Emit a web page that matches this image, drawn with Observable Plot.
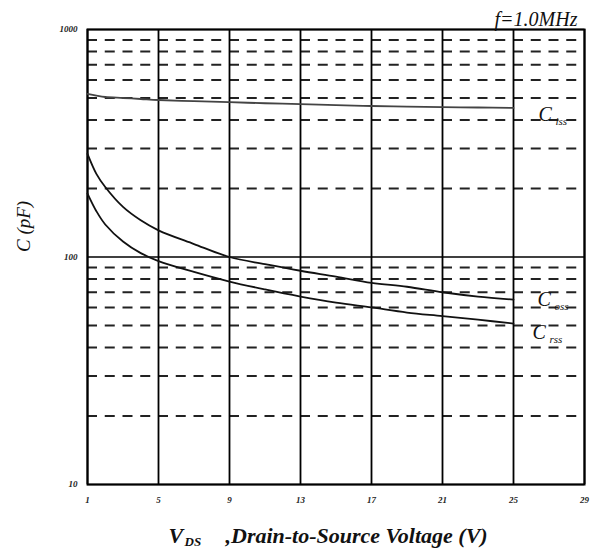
<!DOCTYPE html>
<html>
<head>
<meta charset="utf-8">
<script src="https://cdn.jsdelivr.net/npm/d3@7"></script>
<script src="https://cdn.jsdelivr.net/npm/@observablehq/plot@0.6"></script>
<style>
  html, body { margin: 0; padding: 0; background: #fff; }
  #chart svg { display: block; }
</style>
</head>
<body>
<div id="chart"></div>
<script>
const xTicks = [1, 5, 9, 13, 17, 21, 25, 29];
const yTicks = [10, 100, 1000];
const yMinor = [20, 30, 40, 50, 60, 70, 80, 90, 200, 300, 400, 500, 600, 700, 800, 900];

const vds = [1, 1.5, 2, 3, 4, 5, 7, 9, 11, 13, 15, 17, 19, 21, 23, 25];
const ciss = [521, 512, 505, 500, 495, 490, 484, 479, 474, 470, 465, 461, 458, 456, 454, 452];
const coss = [284, 232, 203, 166, 145, 131, 114, 100, 93, 87, 82, 77, 74, 70, 67, 65];
const crss = [190, 159, 139, 117, 104, 96, 86, 78, 72, 67, 63, 60, 57, 55, 53, 51];

const seriesNames = ["iss", "oss", "rss"];
const seriesValues = [ciss, coss, crss];

const rows = [];
seriesNames.forEach((s, i) => vds.forEach((v, j) => rows.push({s, v, c: seriesValues[i][j]})));

const serif = "'Liberation Serif', 'Times New Roman', serif";
const last = seriesNames.map((s, i) => ({s, v: vds[vds.length - 1], c: seriesValues[i][vds.length - 1]}));
const labelOffsets = {iss: [25, 7], oss: [24, 0], rss: [19, 9]};

const chart = Plot.plot({
  width: 590,
  height: 548,
  marginLeft: 87,
  marginRight: 6,
  marginTop: 29,
  marginBottom: 64,
  style: {fontFamily: serif, background: "#fff", color: "#000"},
  x: {domain: [1, 29], axis: null},
  y: {type: "log", domain: [10, 1000], axis: null},
  marks: [
    Plot.ruleY(yMinor, {stroke: "#222", strokeWidth: 2, strokeDasharray: "10,7.75"}),
    Plot.ruleY(yTicks, {stroke: "#000", strokeWidth: 1.6}),
    Plot.ruleX(xTicks, {stroke: "#000", strokeWidth: 1.8}),
    Plot.frame({stroke: "#000", strokeWidth: 2}),
    Plot.line(rows, {x: "v", y: "c", z: "s", stroke: d => d.s === "iss" ? "#444" : "#111", strokeWidth: 1.8, curve: "catmull-rom"}),
    // series labels
    ...last.map(d => Plot.text([d], {x: "v", y: "c", text: () => "C", dx: labelOffsets[d.s][0], dy: labelOffsets[d.s][1], textAnchor: "start", fontSize: 20, fontStyle: "italic", fill: "#111"})),
    ...last.map(d => Plot.text([d], {x: "v", y: "c", text: "s", dx: labelOffsets[d.s][0] + 17, dy: labelOffsets[d.s][1] + 7, textAnchor: "start", fontSize: 11, fontStyle: "italic", fill: "#111"})),
    // tick labels
    Plot.text(xTicks, {x: d => d, frameAnchor: "bottom", dy: 18, text: d => String(d), fontSize: 9, fontStyle: "italic", fontWeight: "bold", fill: "#222"}),
    Plot.text(yTicks, {y: d => d, frameAnchor: "left", dx: -10, textAnchor: "end", text: d => String(d), fontSize: 9, fontStyle: "italic", fontWeight: "bold", fill: "#222"}),
    // titles
    Plot.text(["f=1.0MHz"], {frameAnchor: "top-right", dx: -7, dy: -10, textAnchor: "end", lineAnchor: "middle", fontSize: 20, fontStyle: "italic", fill: "#111"}),
    Plot.text(["C (pF)"], {frameAnchor: "left", dx: -64, dy: -5, rotate: -90, fontSize: 19, fontStyle: "italic", fill: "#111"}),
    Plot.text(["V"], {frameAnchor: "bottom-left", dx: 81, dy: 51, textAnchor: "start", lineAnchor: "middle", fontSize: 22, fontStyle: "italic", fontWeight: "bold", fill: "#111"}),
    Plot.text(["DS"], {frameAnchor: "bottom-left", dx: 97, dy: 57, textAnchor: "start", lineAnchor: "middle", fontSize: 13, fontStyle: "italic", fontWeight: "bold", fill: "#111"}),
    Plot.text([",Drain-to-Source Voltage (V)"], {frameAnchor: "bottom-left", dx: 138, dy: 51, textAnchor: "start", lineAnchor: "middle", fontSize: 22, fontStyle: "italic", fontWeight: "bold", fill: "#111"})
  ]
});
document.getElementById("chart").appendChild(chart);
</script>
</body>
</html>
